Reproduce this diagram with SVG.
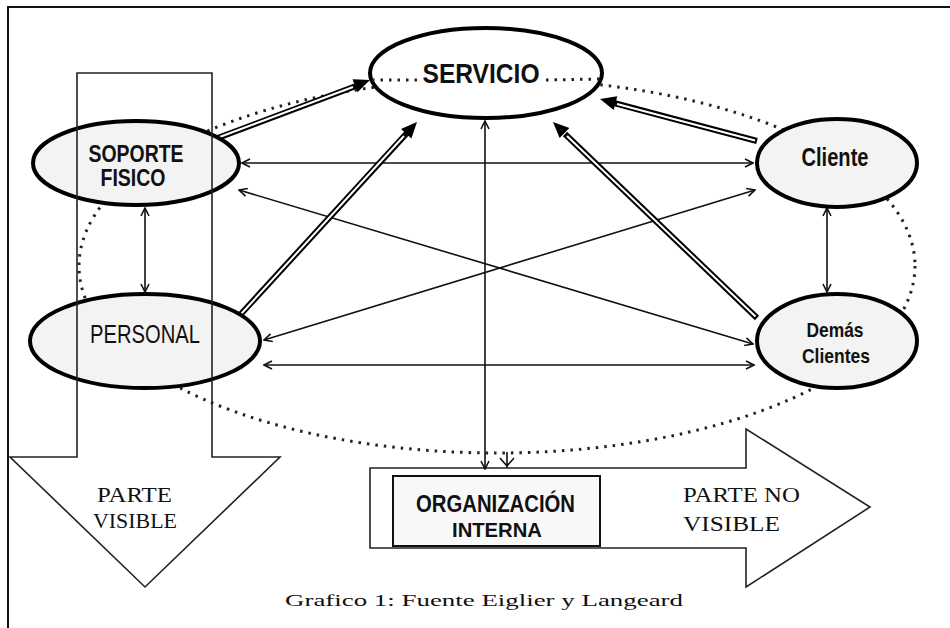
<svg xmlns="http://www.w3.org/2000/svg" width="950" height="628" viewBox="0 0 950 628">
<defs>
<style>
.node{fill:#f3f3f3;stroke:#000;stroke-width:4}
.lbl{font-family:"Liberation Sans Narrow","Liberation Sans",Arial,sans-serif;fill:#111;text-anchor:middle}
.b{font-weight:bold}
.serif{font-family:"Liberation Serif","Times New Roman",serif;fill:#111}
.thin{stroke:#111;stroke-width:1.6;fill:none}
.dbl{stroke:#000;stroke-width:6;fill:none}
.dblin{stroke:#fff;stroke-width:2;fill:none}
.dot{fill:none;stroke:#222;stroke-width:3;stroke-dasharray:2.5 6}
.bigarrow{fill:none;stroke:#222;stroke-width:1.6}
</style>
<marker id="ah" viewBox="0 0 10 10" refX="9" refY="5" markerWidth="10" markerHeight="10" markerUnits="userSpaceOnUse" orient="auto-start-reverse">
<path d="M1,1 L9,5 L1,9" fill="none" stroke="#111" stroke-width="1.6"/>
</marker>
</defs>
<rect width="950" height="628" fill="#fff"/>
<path d="M8,628 L8,7 L950,7" fill="none" stroke="#111" stroke-width="2"/>

<g id="big-dotted">
<ellipse class="dot" cx="497" cy="266" rx="418" ry="187"/>
<path d="M500,458 L507,466 L514,458 M507,452 L507,468" class="thin"/>
</g>

<g id="arrow-no-visible">
<path class="bigarrow" d="M370,468 L746,468 L746,429 L870,507 L746,587 L746,548 L370,548 Z"/>
<text class="serif" x="683" y="502" font-size="21" textLength="117" lengthAdjust="spacingAndGlyphs">PARTE NO</text>
<text class="serif" x="683" y="531" font-size="21" textLength="97" lengthAdjust="spacingAndGlyphs">VISIBLE</text>
</g>

<g id="connectors">
<line class="thin" x1="242" y1="163" x2="753" y2="163" marker-start="url(#ah)" marker-end="url(#ah)"/>
<line class="thin" x1="264" y1="365" x2="754" y2="365" marker-start="url(#ah)" marker-end="url(#ah)"/>
<line class="thin" x1="145" y1="208" x2="145" y2="292" marker-start="url(#ah)" marker-end="url(#ah)"/>
<line class="thin" x1="827" y1="208" x2="827" y2="292" marker-start="url(#ah)" marker-end="url(#ah)"/>
<line class="thin" x1="239" y1="190" x2="753" y2="344" marker-start="url(#ah)" marker-end="url(#ah)"/>
<line class="thin" x1="264" y1="340" x2="755" y2="190" marker-start="url(#ah)" marker-end="url(#ah)"/>
<line class="thin" x1="485" y1="121" x2="485" y2="469" marker-start="url(#ah)" marker-end="url(#ah)"/>
<g id="dbl-soporte">
<line class="dbl" x1="215" y1="139" x2="356" y2="86"/>
<line class="dblin" x1="217" y1="138" x2="353" y2="87"/>
<polygon points="370,80 357.5,92.2 352.5,79.2"/>
</g>
<g id="dbl-cliente">
<line class="dbl" x1="757" y1="141" x2="614" y2="103"/>
<line class="dblin" x1="755" y1="140.5" x2="617" y2="104"/>
<polygon points="600,99 617.3,96.3 613.7,109.9"/>
</g>
<g id="dbl-personal">
<line class="dbl" x1="240" y1="315" x2="407" y2="133"/>
<line class="dblin" x1="241.5" y1="313.5" x2="404" y2="136"/>
<polygon points="417,122 411.4,138.5 401,129.1"/>
</g>
<g id="dbl-demas">
<line class="dbl" x1="757" y1="318" x2="565" y2="134"/>
<line class="dblin" x1="755.5" y1="316.5" x2="567" y2="136"/>
<polygon points="553,122 569.4,128.1 559.6,138.1"/>
</g>
</g>

<g id="servicio">
<ellipse cx="486" cy="73" rx="116" ry="45" fill="#fff" stroke="#000" stroke-width="4"/>
<path d="M372,80 L418,80 M546,80 L600,79" class="dot" stroke-width="2.5"/>
<text class="lbl b" x="481" y="83" font-size="28" textLength="117" lengthAdjust="spacingAndGlyphs">SERVICIO</text>
</g>

<g id="soporte-fisico">
<ellipse class="node" cx="136" cy="163" rx="103" ry="42"/>
<text class="lbl b" x="136" y="162" font-size="23" textLength="95" lengthAdjust="spacingAndGlyphs">SOPORTE</text>
<text class="lbl b" x="133" y="186" font-size="23" textLength="65" lengthAdjust="spacingAndGlyphs">FISICO</text>
</g>

<g id="cliente">
<ellipse class="node" cx="837" cy="163" rx="80" ry="44"/>
<text class="lbl b" x="835" y="166" font-size="25" textLength="67" lengthAdjust="spacingAndGlyphs">Cliente</text>
</g>

<g id="personal">
<ellipse class="node" cx="145" cy="341" rx="115" ry="47"/>
<text class="lbl" x="145" y="343" font-size="26" textLength="110" lengthAdjust="spacingAndGlyphs">PERSONAL</text>
</g>

<g id="demas-clientes">
<ellipse class="node" cx="837" cy="341" rx="80" ry="47"/>
<text class="lbl b" x="835" y="337" font-size="21" textLength="57" lengthAdjust="spacingAndGlyphs">Demás</text>
<text class="lbl b" x="836" y="363" font-size="21" textLength="68" lengthAdjust="spacingAndGlyphs">Clientes</text>
</g>

<g id="arrow-visible">
<path class="bigarrow" d="M77,457 L77,73 L212,73 L212,457 L280,457 L145,587 L10,457 Z"/>
<text class="serif" x="97" y="502" font-size="21" textLength="75" lengthAdjust="spacingAndGlyphs">PARTE</text>
<text class="serif" x="93" y="528" font-size="21" textLength="84" lengthAdjust="spacingAndGlyphs">VISIBLE</text>
</g>

<g id="organizacion-interna">
<rect x="393" y="476" width="207" height="70" fill="#f8f8f8" stroke="#111" stroke-width="2"/>
<text class="lbl b" x="495.5" y="512" font-size="23" textLength="159" lengthAdjust="spacingAndGlyphs">ORGANIZACIÓN</text>
<text class="lbl b" x="497" y="537" font-size="21" textLength="90" lengthAdjust="spacingAndGlyphs">INTERNA</text>
</g>

<text class="serif" x="285" y="606" font-size="16" textLength="398" lengthAdjust="spacingAndGlyphs">Grafico 1: Fuente Eiglier y Langeard</text>
</svg>
